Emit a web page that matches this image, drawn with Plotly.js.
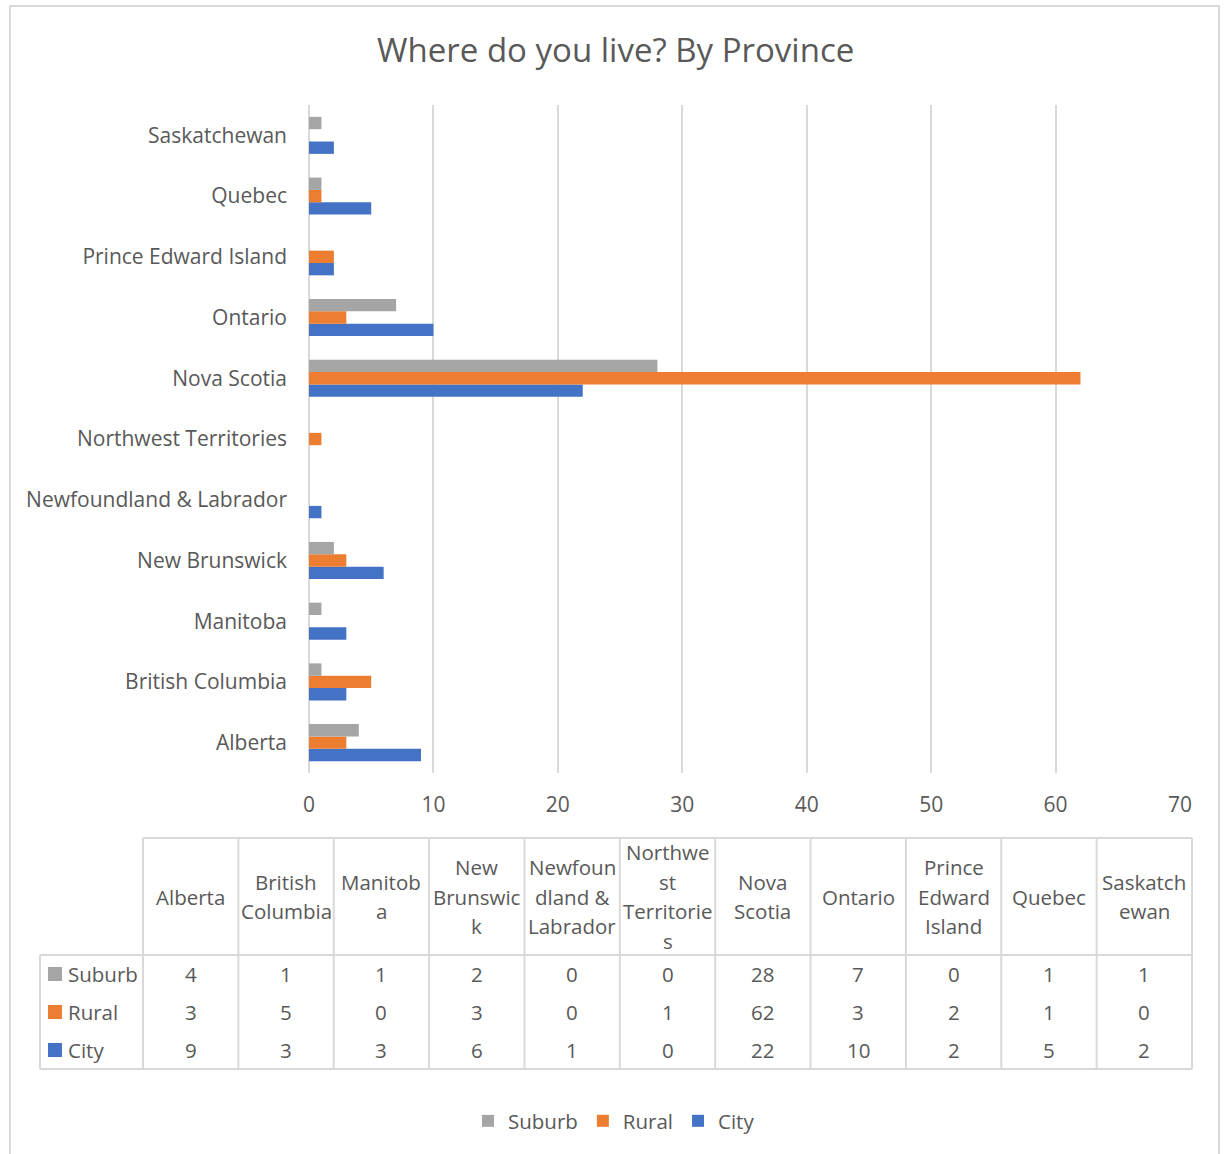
<!DOCTYPE html>
<html>
<head>
<meta charset="utf-8">
<script src="https://cdn.plot.ly/plotly-3.0.1.min.js"></script>
<style>
  html, body { margin: 0; padding: 0; background: #ffffff; }
  #wrap { position: relative; width: 1224px; height: 1154px; overflow: hidden; }
  #chart { position: absolute; left: 0; top: 0; width: 1224px; height: 1154px; }
  #frame { position: absolute; left: 9px; top: 5px; width: 1211px; height: 1170px;
           border: 2px solid #d9d9d9; box-sizing: border-box; pointer-events: none; }
</style>
</head>
<body>
<div id="wrap">
  <div id="chart"></div>
  <div id="frame"></div>
</div>
<script>
// ---------- data ----------
const provinces = ['Alberta', 'British Columbia', 'Manitoba', 'New Brunswick',
  'Newfoundland & Labrador', 'Northwest Territories', 'Nova Scotia', 'Ontario',
  'Prince Edward Island', 'Quebec', 'Saskatchewan'];
const headerLabels = ['Alberta', 'British<br>Columbia', 'Manitob<br>a', 'New<br>Brunswic<br>k',
  'Newfoun<br>dland &<br>Labrador', 'Northwe<br>st<br>Territorie<br>s', 'Nova<br>Scotia',
  'Ontario', 'Prince<br>Edward<br>Island', 'Quebec', 'Saskatch<br>ewan'];
const suburb = [4, 1, 1, 2, 0, 0, 28, 7, 0, 1, 1];
const rural  = [3, 5, 0, 3, 0, 1, 62, 3, 2, 1, 0];
const city   = [9, 3, 3, 6, 1, 0, 22, 10, 2, 5, 2];
const seriesNames = ['Suburb', 'Rural', 'City'];
const xTicks = [0, 10, 20, 30, 40, 50, 60, 70];

// ---------- style ----------
const colors = { Suburb: '#A5A5A5', Rural: '#ED7D31', City: '#4472C4' };
const seriesValues = { Suburb: suburb, Rural: rural, City: city };
const FONT = '"Open Sans", "Noto Sans", sans-serif';
const TXT = '#595959';
const GRID = '#d9d9d9';
const FS = 21;
const TFS = 20.5;

// ---------- bar traces (City bottom, Suburb top within each group) ----------
const traces = ['City', 'Rural', 'Suburb'].map(name => ({
  type: 'bar',
  orientation: 'h',
  name: name,
  y: provinces,
  x: seriesValues[name],
  marker: { color: colors[name], line: { width: 0 } },
  xaxis: 'x', yaxis: 'y',
  hoverinfo: 'x+y+name'
}));

// ---------- data table (on hidden axes x2/y2) ----------
const LABW = 1.08, HEADH = 3.08, LINE = 0.776;
const nCol = provinces.length, nRow = seriesNames.length;
const shapes = [];
const lineStyle = { color: GRID, width: 2 };
function seg(x0, y0, x1, y1) {
  shapes.push({ type: 'line', xref: 'x2', yref: 'y2', x0, y0, x1, y1, line: lineStyle, layer: 'above' });
}
seg(0, -HEADH, nCol, -HEADH);
seg(-LABW, 0, nCol, 0);
seg(-LABW, nRow, nCol, nRow);
seg(-LABW, 0, -LABW, nRow);
for (let k = 0; k <= nCol; k++) seg(k, -HEADH, k, nRow);

const annotations = [];
const tFont = { family: FONT, size: TFS, color: TXT };
headerLabels.forEach((lab, k) => {
  const lines = lab.split('<br>');
  const n = lines.length;
  lines.forEach((ln, j) => {
    annotations.push({
      xref: 'x2', yref: 'y2', x: k + 0.5, y: -HEADH / 2 + (j - (n - 1) / 2) * LINE,
      text: ln, showarrow: false, font: tFont, xanchor: 'center', yanchor: 'middle'
    });
  });
});
seriesNames.forEach((name, r) => {
  annotations.push({
    xref: 'x2', yref: 'y2', x: -0.81, y: r + 0.5, text: name, showarrow: false,
    font: tFont, xanchor: 'left', yanchor: 'middle'
  });
  seriesValues[name].forEach((v, k) => {
    annotations.push({
      xref: 'x2', yref: 'y2', x: k + 0.5, y: r + 0.5, text: String(v), showarrow: false,
      font: tFont, xanchor: 'center', yanchor: 'middle'
    });
  });
});
traces.push({
  type: 'scatter', mode: 'markers', xaxis: 'x2', yaxis: 'y2', showlegend: false, hoverinfo: 'skip',
  x: seriesNames.map(() => -0.923),
  y: seriesNames.map((_, r) => r + 0.5),
  marker: { symbol: 'square', size: 14, color: seriesNames.map(n => colors[n]), line: { width: 0 } }
});

const layout = {
  width: 1224, height: 1154,
  margin: { l: 30, r: 22, t: 105, b: 75 },
  paper_bgcolor: '#ffffff', plot_bgcolor: 'rgba(0,0,0,0)',
  font: { family: FONT, size: FS, color: TXT },
  title: {
    text: 'Where do you live? By Province',
    font: { family: FONT, size: 33, color: TXT },
    x: 0.503, xref: 'container', xanchor: 'center',
    y: 1 - 50 / 1154, yref: 'container', yanchor: 'middle'
  },
  barmode: 'group', bargap: 0.39, bargroupgap: 0,
  xaxis: {
    domain: [(309 - 30) / 1172, (1180 - 30) / 1172],
    range: [0, 70], tickvals: xTicks, ticktext: xTicks.map(String),
    showgrid: true, gridcolor: GRID, gridwidth: 2,
    zeroline: true, zerolinecolor: GRID, zerolinewidth: 2,
    showline: false, ticks: '', ticklabelstandoff: 17,
    tickfont: { family: FONT, size: FS, color: TXT }, fixedrange: true
  },
  yaxis: {
    domain: [(1079 - 773) / 974, 1],
    type: 'category', categoryorder: 'array', categoryarray: provinces,
    showgrid: false, zeroline: false, showline: false, ticks: '', ticklabelstandoff: 21,
    tickfont: { family: FONT, size: FS, color: TXT }, fixedrange: true
  },
  xaxis2: {
    domain: [0, 1], range: [-LABW - 10 / 95.36, nCol + 10 / 95.36],
    visible: false, fixedrange: true, anchor: 'y2'
  },
  yaxis2: {
    domain: [0, (1079 - 828) / 974], range: [nRow + 10 / 38, -HEADH - 10 / 38],
    visible: false, fixedrange: true, anchor: 'x2'
  },
  shapes: shapes,
  annotations: annotations,
  showlegend: true,
  legend: {
    orientation: 'h', traceorder: 'reversed',
    x: (614 - 30) / 1172, xanchor: 'center',
    y: -42 / 974, yanchor: 'middle',
    font: { family: FONT, size: TFS, color: TXT },
    itemwidth: 30
  }
};

Plotly.newPlot('chart', traces, layout, { displayModeBar: false, staticPlot: true });
</script>
</body>
</html>
